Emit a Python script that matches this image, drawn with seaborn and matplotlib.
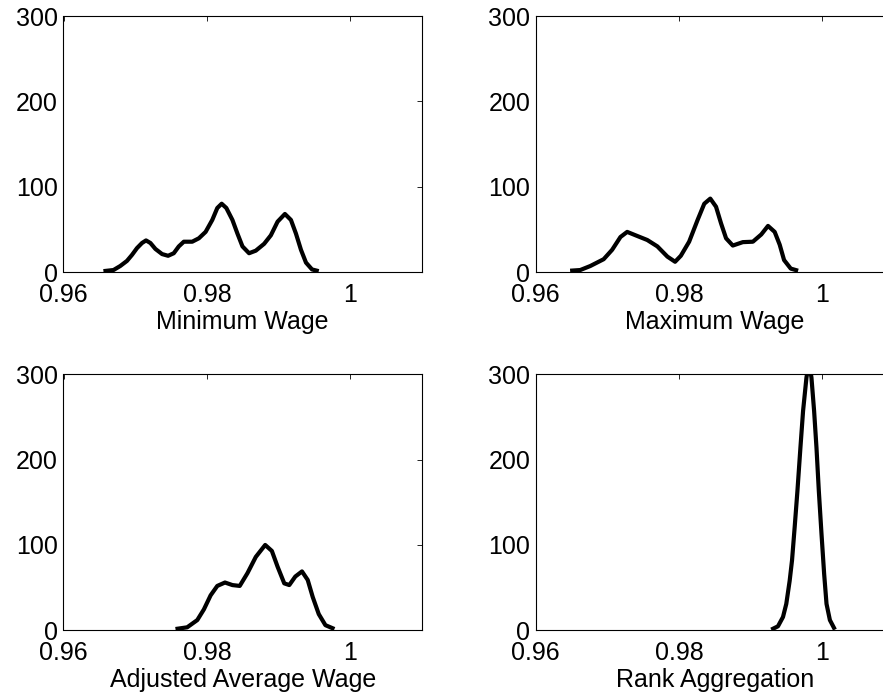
import matplotlib
matplotlib.use("Agg")
import matplotlib.pyplot as plt
import seaborn as sns

# density curves (x = score, y = density)
min_x = [0.96557, 0.96697, 0.96791, 0.96885, 0.96955, 0.97025, 0.97095, 0.97151, 0.97212, 0.97282,
         0.97375, 0.97459, 0.97538, 0.97608, 0.97678, 0.97795, 0.97888, 0.97982, 0.98075, 0.98145,
         0.98206, 0.98271, 0.98356, 0.98426, 0.98496, 0.98588, 0.98682, 0.98798, 0.98892, 0.98986,
         0.99088, 0.99172, 0.99242, 0.99312, 0.99382, 0.99466, 0.99560]
min_y = [1, 2.3, 7, 13, 20, 28, 34, 37, 34, 27,
         21, 19, 22, 30, 35.5, 35.5, 39.5, 47, 61, 75,
         80, 75, 61, 45, 30, 22, 25, 33, 43, 59,
         68, 61, 45, 26, 11, 3, 1]

max_x = [0.96480, 0.96621, 0.96761, 0.96948, 0.97066, 0.97182, 0.97276, 0.97393, 0.97556, 0.97697,
         0.97837, 0.97944, 0.98024, 0.98140, 0.98258, 0.98351, 0.98435, 0.98515, 0.98585, 0.98655,
         0.98749, 0.98889, 0.99029, 0.99146, 0.99240, 0.99333, 0.99403, 0.99464, 0.99557, 0.99660]
max_y = [1.5, 2.3, 7, 15, 26, 41, 47, 43, 37.5, 30,
         18, 12, 19, 35.5, 61, 80, 86, 76.5, 57, 39.5,
         31, 35, 35.5, 44, 54, 47, 32, 14, 4, 1.5]

adj_x = [0.97562, 0.97725, 0.97866, 0.97958, 0.98052, 0.98145, 0.98252, 0.98356, 0.98458, 0.98566,
         0.98682, 0.98813, 0.98906, 0.98986, 0.99079, 0.99149, 0.99233, 0.99326, 0.99406, 0.99476,
         0.99560, 0.99653, 0.99779]
adj_y = [1.5, 3.5, 12, 24.5, 41, 52, 56, 53, 52, 67,
         86, 100, 93, 74.5, 55, 53, 63, 69, 59, 39,
         19, 6, 1.5]

rank_x = [0.99285, 0.99379, 0.99449, 0.99495, 0.99542, 0.99575, 0.99612, 0.99650, 0.99692, 0.99729,
          0.99776, 0.99813, 0.99846, 0.99883, 0.99916, 0.99949, 0.99986, 1.00023, 1.00056, 1.00103,
          1.00173]
rank_y = [0.8, 4.7, 15.6, 31, 58, 82, 121, 163, 214, 257,
          296, 315, 296, 257, 214, 163, 113, 66, 31, 12,
          0.8]

labels = ["Minimum Wage", "Maximum Wage", "Adjusted Average Wage", "Rank Aggregation"]
x_ticks = [0.96, 0.98, 1.0]
x_tick_labels = ["0.96", "0.98", "1"]
y_ticks = [0, 100, 200, 300]
y_tick_labels = ["0", "100", "200", "300"]

sns.set_style("white")
plt.rcParams["font.family"] = ["Liberation Sans", "DejaVu Sans"]

fig = plt.figure(figsize=(8.83, 6.94), dpi=100)
W, H = 883.0, 694.0
# axes boxes in pixels: left, top, right, bottom
boxes = [(63.5, 16, 422, 272), (535.7, 16, 894.2, 272),
         (63.5, 374.3, 422, 630.3), (535.7, 374.3, 894.2, 630.3)]
curves = [(min_x, min_y), (max_x, max_y), (adj_x, adj_y), (rank_x, rank_y)]

for (l, t, r, b), (xs, ys), name in zip(boxes, curves, labels):
    ax = fig.add_axes([l / W, 1 - b / H, (r - l) / W, (b - t) / H])
    sns.lineplot(x=xs, y=ys, ax=ax, color="black", linewidth=3, estimator=None, sort=False,
                 solid_joinstyle="round", solid_capstyle="butt")
    ax.set_xlim(0.96, 1.01)
    ax.set_ylim(0, 300)
    ax.set_xticks(x_ticks)
    ax.set_xticklabels(x_tick_labels)
    ax.set_yticks(y_ticks)
    ax.set_yticklabels(y_tick_labels)
    ax.tick_params(direction="in", top=True, right=True, length=3.5, width=0.6,
                   labelsize=18, colors="black")
    ax.tick_params(axis="x", pad=8)
    ax.tick_params(axis="y", pad=4)
    ax.set_xlabel(name, fontsize=18, labelpad=2, color="black")
    for sp in ax.spines.values():
        sp.set_color("black")
        sp.set_linewidth(0.8)

fig.savefig("out.png", dpi=100)
